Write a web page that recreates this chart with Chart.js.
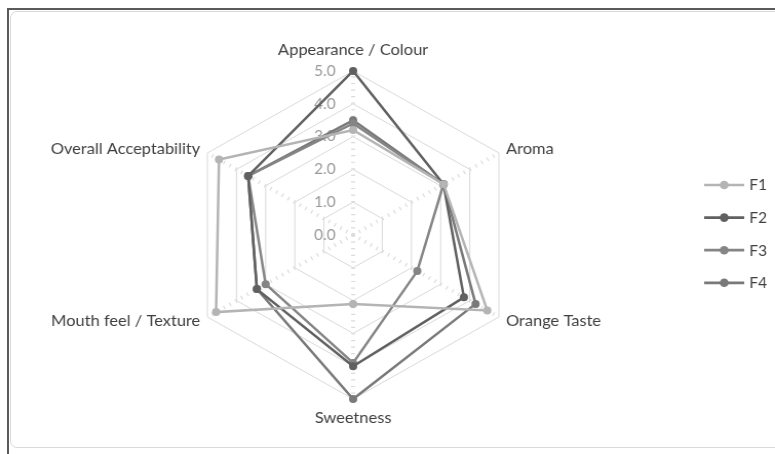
<!DOCTYPE html>
<html>
<head>
<meta charset="utf-8">
<title>Sensory evaluation radar</title>
<script src="https://cdn.jsdelivr.net/npm/chart.js@4.4.1/dist/chart.umd.min.js"></script>
<style>
  html, body { margin: 0; padding: 0; background: #ffffff; }
  #wrap { position: relative; width: 775px; height: 454px; overflow: hidden; }
  .edge { position: absolute; left: 7px; top: 8px; right: -20px; bottom: -20px;
          border-top: 2px solid #5a5a5a; border-left: 2px solid #5a5a5a; }
  .area { position: absolute; left: 10px; top: 11px; right: -12px; height: 435px;
          border: 1px solid #d9d9d9; border-radius: 7px; }
  canvas { position: absolute; left: 0; top: 0; }
</style>
</head>
<body>
<div id="wrap">
  <div class="edge"></div>
  <div class="area"></div>
  <canvas id="chart" width="755" height="454" style="width:775px;height:454px"></canvas>
</div>
<script>
// Sensory attributes (spokes, clockwise from the top)
const categories = ['Appearance / Colour', 'Aroma', 'Orange Taste', 'Sweetness',
                    'Mouth feel / Texture', 'Overall Acceptability'];
const seriesNames = ['F1', 'F2', 'F3', 'F4'];

// Mean scores per formulation
const f1 = [3.2, 3.1, 4.6, 2.1, 4.7, 4.6];
const f2 = [5.0, 3.1, 3.8, 4.0, 3.3, 3.6];
const f3 = [3.4, 3.1, 2.2, 3.9, 3.0, 3.6];
const f4 = [3.5, 3.1, 4.2, 5.0, 3.3, 3.6];

// Value axis ticks
const tickValues = [0, 1, 2, 3, 4, 5];

const seriesColors = ['#b4b4b4', '#606060', '#858585', '#797979'];
const seriesData = [f1, f2, f3, f4];

// Value labels beside the vertical axis, spoke titles and a line-and-marker legend
const radarText = {
  id: 'radarText',
  beforeDatasetsDraw(chart) {
    const s = chart.scales.r;
    const ctx = chart.ctx;
    ctx.save();
    ctx.font = '15px Lato';
    ctx.fillStyle = '#9a9a9a';
    ctx.textAlign = 'right';
    ctx.textBaseline = 'middle';
    tickValues.forEach(v => {
      const y = s.yCenter - s.getDistanceFromCenterForValue(v);
      ctx.fillText(v.toFixed(1), s.xCenter - 17, y);
    });

    ctx.font = '16px Lato';
    ctx.fillStyle = '#404040';
    categories.forEach((label, i) => {
      const a = s.getIndexAngle(i);
      const sin = Math.sin(a), cos = Math.cos(a);
      let r, align;
      if (Math.abs(sin) < 0.01) {
        r = s.drawingArea + (cos > 0 ? 21 : 19);
        align = 'center';
      } else {
        r = s.drawingArea + 8;
        align = sin > 0 ? 'left' : 'right';
      }
      const p = s.getPointPosition(i, r);
      ctx.textAlign = align;
      ctx.fillText(label, p.x, p.y);
    });
    ctx.restore();
  },
  afterDatasetsDraw(chart) {
    const ctx = chart.ctx;
    ctx.save();
    ctx.font = '15px Lato';
    ctx.textAlign = 'left';
    ctx.textBaseline = 'middle';
    chart.data.datasets.forEach((ds, i) => {
      const y = 185 + i * 32.6;
      ctx.strokeStyle = ds.borderColor;
      ctx.lineWidth = 2.7;
      ctx.beginPath();
      ctx.moveTo(686, y);
      ctx.lineTo(725, y);
      ctx.stroke();
      ctx.fillStyle = ds.borderColor;
      ctx.beginPath();
      ctx.arc(705.5, y, 4.3, 0, Math.PI * 2);
      ctx.fill();
      ctx.fillStyle = '#404040';
      ctx.fillText(ds.label, 730, y + 0.5);
    });
    ctx.restore();
  }
};

new Chart(document.getElementById('chart'), {
  type: 'radar',
  data: {
    labels: categories,
    datasets: seriesNames.map((name, i) => ({
      label: name,
      data: seriesData[i],
      borderColor: seriesColors[i],
      backgroundColor: seriesColors[i],
      pointBackgroundColor: seriesColors[i],
      pointBorderColor: seriesColors[i],
      borderWidth: 2.5,
      pointRadius: 4,
      pointBorderWidth: 0,
      fill: false,
      tension: 0
    }))
  },
  options: {
    responsive: false,
    devicePixelRatio: 1,
    animation: false,
    events: [],
    layout: { padding: { left: 180, right: 247, top: 71, bottom: 55 } },
    plugins: { legend: { display: false }, tooltip: { enabled: false } },
    scales: {
      r: {
        min: 0,
        max: 5,
        ticks: { stepSize: 1, display: false },
        pointLabels: { display: false },
        grid: { color: '#d9d9d9', lineWidth: 1 },
        angleLines: { color: '#dcdcdc', lineWidth: 4, borderDash: [1.2, 5.36] }
      }
    }
  },
  plugins: [radarText]
});
</script>
</body>
</html>
